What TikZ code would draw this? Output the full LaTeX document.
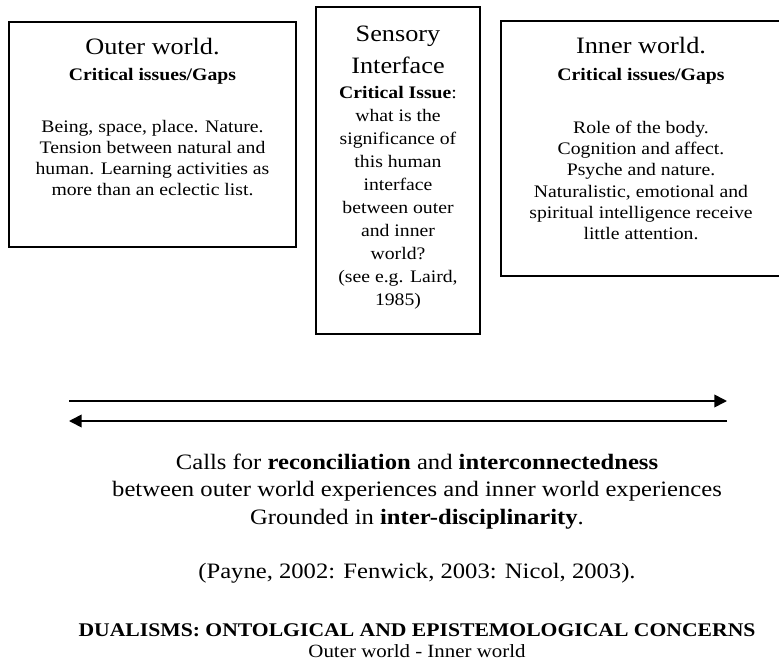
\documentclass[tikz,border=0pt]{standalone}
\usepackage{fontspec}
\setmainfont[FakeStretch=1.12]{Liberation Serif}
\usetikzlibrary{arrows.meta,positioning}

\begin{document}
\begin{tikzpicture}[x=0.75pt,y=-0.75pt,
    frame/.style={draw,line width=1pt,inner sep=0pt},
    headtxt/.style={anchor=base,align=center,font=\fontsize{17.6}{24}\selectfont},
    bodytxt/.style={anchor=base,align=center,font=\fontsize{13.2}{15.75}\selectfont},
    calltxt/.style={anchor=base,align=center,font=\fontsize{16.5}{20.6}\selectfont},
    flow/.style={line width=1.2pt,-{Triangle[length=9.5pt,width=9.5pt]}}]
  \useasboundingbox (0,0) rectangle (779,664);

  \node[frame,minimum width=215.25pt,minimum height=168.75pt] (outer) at (152.5,134.5) {};
  \node[headtxt] (outerhead) at (152.5,54) {Outer world.};
  \node[bodytxt] (outergaps) at (152.5,80) {\textbf{Critical issues/Gaps}};
  \node[bodytxt] (outerbody) at (152.5,195) {Being, space, place. Nature.\\
    Tension between natural and\\human. Learning activities as\\more than an eclectic list.};

  \node[frame,minimum width=123pt,minimum height=245.25pt] (sensory) at (398,170.5) {};
  \node[headtxt] (sensoryhead) at (398,73) {Sensory\\Interface};
  \node[bodytxt,font=\fontsize{13.2}{17.25}\selectfont] (sensorybody) at (398,305)
    {\textbf{Critical Issue}:\\what is the\\significance of\\this human\\interface\\
     between outer\\and inner\\world?\\(see e.g. Laird,\\1985)};

  \node[frame,minimum width=210.75pt,minimum height=191.25pt] (inner) at (641.5,148.5) {};
  \node[headtxt] (innerhead) at (641,53) {Inner world.};
  \node[bodytxt] (innergaps) at (641,80) {\textbf{Critical issues/Gaps}};
  \node[bodytxt,font=\fontsize{13.2}{16}\selectfont] (innerbody) at (641,239.7)
    {Role of the body.\\Cognition and affect.\\Psyche and nature.\\
     Naturalistic, emotional and\\spiritual intelligence receive\\little attention.};

  \coordinate (ltop) at (69,401);
  \coordinate (rtop) at (727,401);
  \coordinate (lbot) at (69,421);
  \coordinate (rbot) at (727,421);
  \draw[flow] (ltop) -- (rtop);
  \draw[flow] (rbot) -- (lbot);

  \node[calltxt] (calls) at (417,524) {Calls for \textbf{reconciliation} and \textbf{interconnectedness}\\
    between outer world experiences and inner world experiences\\
    Grounded in \textbf{inter-disciplinarity}.};
  \node[calltxt] (refs) at (417,578) {(Payne, 2002: Fenwick, 2003: Nicol, 2003).};
  \node[bodytxt,font=\fontsize{14.5}{16}\selectfont] (dualisms) at (417,636)
    {\textbf{DUALISMS: ONTOLGICAL AND EPISTEMOLOGICAL CONCERNS}};
  \node[bodytxt,font=\fontsize{14}{16}\selectfont] (worlds) at (417,657) {Outer world - Inner world};
\end{tikzpicture}
\end{document}
